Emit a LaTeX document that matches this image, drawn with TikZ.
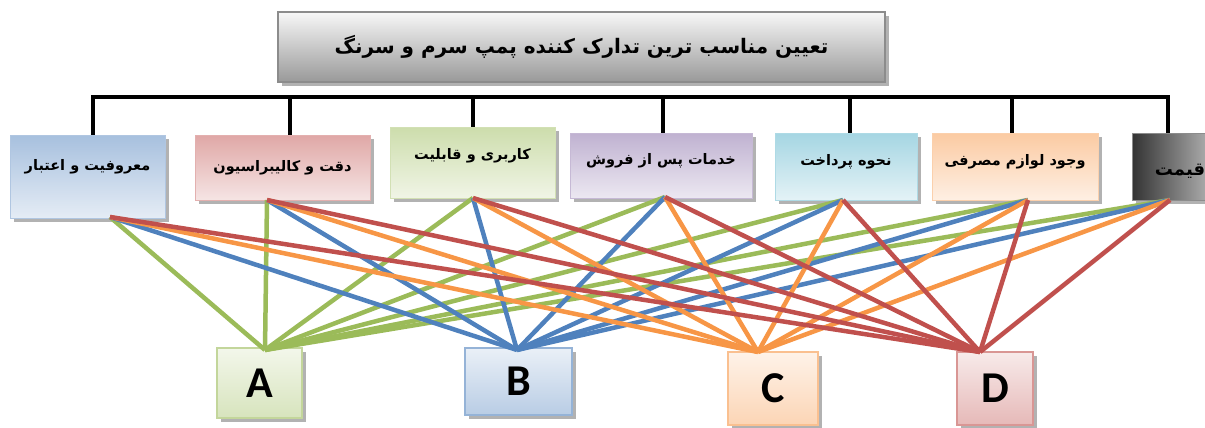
\documentclass[tikz,border=0pt]{standalone}
\usepackage{fontspec}
\usepackage{tikz}
\usetikzlibrary{shadows}
\setmainfont{DejaVu Sans}
\newfontfamily\persianfont[Script=Arabic]{DejaVu Sans}
\newfontfamily\latinfont{Carlito}
\TeXXeTstate=1
\newcommand{\fa}[1]{{\persianfont\bfseries\beginR #1\endR}}
\definecolor{ahpgreen}{RGB}{155, 187, 89}
\definecolor{ahpblue}{RGB}{79, 129, 189}
\definecolor{ahporange}{RGB}{247, 150, 70}
\definecolor{ahpred}{RGB}{192, 80, 77}
\definecolor{ahppurple}{RGB}{128, 100, 162}
\definecolor{ahpaqua}{RGB}{75, 172, 198}
\tikzset{
    shadowed/.style={drop shadow={shadow xshift=4pt, shadow yshift=-4pt, fill=black!55, opacity=0.55}},
    goalbox/.style={draw=black!45, line width=1.5pt, top color=black!3, bottom color=black!40, shadowed, minimum width=607pt, minimum height=70pt, font=\fontsize{20}{24}\selectfont},
    critbox/.style={draw=#1!45, line width=1pt, top color=#1!50, bottom color=#1!15, shadowed, font=\fontsize{14.5}{17}\selectfont, inner sep=2pt},
    altbox/.style={draw=#1!60, line width=1.5pt, top color=#1!12, bottom color=#1!40, shadowed, font=\latinfont\bfseries\fontsize{44}{44}\selectfont},
    link/.style={line width=4.5pt, draw=#1},
    bus/.style={line width=4.5pt, black}
}
\begin{document}
\begin{tikzpicture}[x=1pt, y=-1pt]
    \useasboundingbox (0,0) rectangle (1205,428);
    % goal
    \node[goalbox] (goal) at (581.5,47) {\fa{تعیین مناسب ترین تدارک کننده پمپ سرم و سرنگ}};
    % criteria
    \node[critbox=ahpblue, minimum width=155pt, minimum height=83pt, text depth=24pt] (c1) at (87.5,176.5) {\fa{معروفیت و اعتبار}};
    \node[critbox=ahpred, minimum width=175pt, minimum height=65pt] (c2) at (282.5,167.5) {\fa{دقت و کالیبراسیون}};
    \node[critbox=ahpgreen, minimum width=165pt, minimum height=71pt, text depth=18pt] (c3) at (472.5,162.5) {\fa{کاربری و قابلیت}};
    \node[critbox=ahppurple, minimum width=182pt, minimum height=65pt, text depth=13pt] (c4) at (661,165.5) {\fa{خدمات پس از فروش}};
    \node[critbox=ahpaqua, minimum width=142pt, minimum height=67pt, text depth=13pt] (c5) at (846,166.5) {\fa{نحوه پرداخت}};
    \node[critbox=ahporange, minimum width=166pt, minimum height=67pt, text depth=13pt] (c6) at (1015,166.5) {\fa{وجود لوازم مصرفی}};
    \node[critbox=black, left color=black!80, right color=black!20, minimum width=96pt, minimum height=67pt, text height=20pt, font=\fontsize{18}{20}\selectfont] (c7) at (1180,166.5) {\fa{قیمت}};
    % bus
    \draw[bus] (91,97) -- (1170,97);
    \foreach \x/\n in {93/c1, 290/c2, 473/c3, 663/c4, 850/c5, 1012/c6, 1168/c7}
        \draw[bus] (\x,97) -- (\x,0 |- \n.north);
    % alternatives
    \node[altbox=ahpgreen, minimum width=85pt, minimum height=70pt] (A) at (259.5,383) {A};
    \node[altbox=ahpblue, minimum width=107pt, minimum height=67pt] (B) at (518.5,381.5) {B};
    \node[altbox=ahporange, minimum width=90pt, minimum height=73pt] (C) at (773,388.5) {C};
    \node[altbox=ahpred, minimum width=76pt, minimum height=73pt] (D) at (995,388.5) {D};
    % link ends
    \coordinate (k1) at (110,217);
    \coordinate (k2) at (267,200);
    \coordinate (k3) at (473,198);
    \coordinate (k4) at (665,197);
    \coordinate (k5) at (843,200);
    \coordinate (k6) at (1028,200);
    \coordinate (k7) at (1170,200);
    \coordinate (pA) at (265,350);
    \coordinate (pB) at (517,350);
    \coordinate (pC) at (758,352);
    \coordinate (pD) at (980,352);
    \foreach \alt/\col in {A/ahpgreen, B/ahpblue, C/ahporange, D/ahpred}
        \foreach \k in {1,...,7}
            \draw[link=\col] (k\k) -- (p\alt);
\end{tikzpicture}
\end{document}
